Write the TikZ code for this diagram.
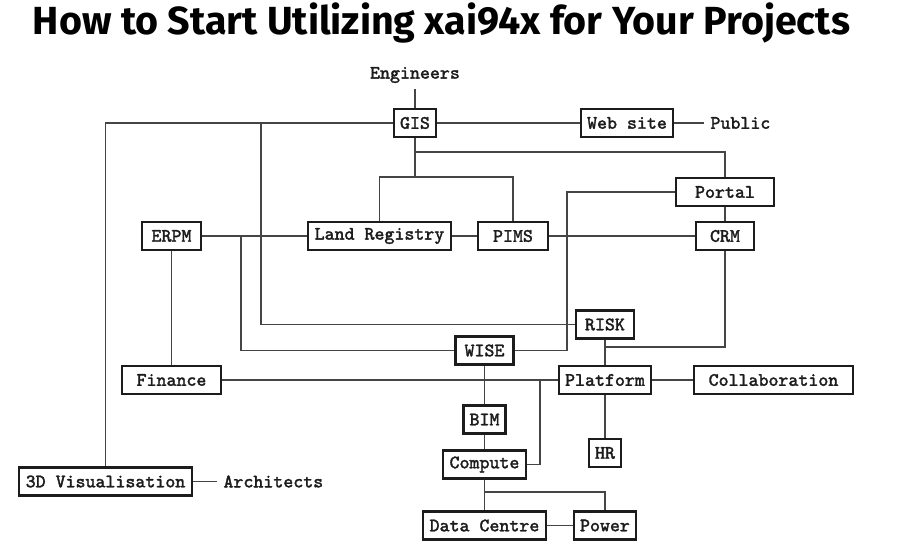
\documentclass[tikz,border=0pt]{standalone}
\usepackage{fontspec}
\usepackage{graphicx}
\usetikzlibrary{positioning}
\newfontfamily\headfont{Fira Sans}
\newfontfamily\boxfont{Latin Modern Mono}[FakeBold=1.6]
\definecolor{ink}{HTML}{1C1C1C}
\definecolor{wire}{HTML}{454545}

\begin{document}
\begin{tikzpicture}[x=0.5pt,y=-0.5pt,
      box/.style={draw=ink,line width=1.1pt,fill=white,text=ink,
                  font=\boxfont\bfseries\fontsize{9.5}{11}\selectfont,
                  minimum height=14pt,inner sep=3pt},
      lbl/.style={text=ink,font=\boxfont\bfseries\fontsize{9.5}{11}\selectfont,inner sep=3pt},
      link/.style={draw=wire,line width=0.65pt}]

    \useasboundingbox (0,0) rectangle (900,550);

    \node[anchor=base,text=black,inner sep=0] (title) at (441.5,35)
      {\resizebox{408.5pt}{\height}{\headfont\bfseries\fontsize{19.6}{22}\selectfont How to Start Utilizing xai94x for Your Projects}};

    % top row
    \node[box,minimum width=21pt] (gis) at (415,123) {GIS};
    \node[box,minimum width=46pt] (web) at (627,123) {Web site};
    \node[lbl] (eng) at (415,75) {Engineers};
    \node[lbl,right=15pt of web] (pub) {Public};
    \node[box,minimum width=49pt] (portal) at (725,192) {Portal};

    % middle row
    \node[box,minimum width=29.5pt] (erpm) at (171.5,236) {ERPM};
    \node[box,minimum width=71.5pt] (land) at (379.5,236) {Land Registry};
    \node[box,minimum width=35pt] (pims) at (513,236) {PIMS};
    \node[box,minimum width=29pt] (crm) at (725,236) {CRM};

    \node[box,minimum width=29pt] (risk) at (605,324.5) {RISK};
    \node[box,minimum width=29pt] (wise) at (484.5,350.5) {WISE};

    \node[box,minimum width=49.5pt] (fin) at (171.5,380) {Finance};
    \node[box,minimum width=46pt] (plat) at (605,380) {Platform};
    \node[box,minimum width=79.5pt] (collab) at (773.5,380) {Collaboration};

    % bottom part
    \node[box,minimum width=20.5pt] (bim) at (484.5,419.5) {BIM};
    \node[box,minimum width=16pt] (hr) at (605,453) {HR};
    \node[box,minimum width=41.5pt] (comp) at (484.5,464.5) {Compute};
    \node[box,minimum width=61.5pt] (dc) at (484.5,525.5) {Data Centre};
    \node[box,minimum width=31pt] (pow) at (605,525.5) {Power};
    \node[box,minimum width=86.5pt] (vis) at (105.5,481.5) {3D Visualisation};
    \node[lbl,right=12pt of vis] (arch) {Architects};

    % junctions
    \coordinate (jgis) at (261,123);
    \coordinate (jerpm) at (241,236);
    \coordinate (jsplit) at (415,177);
    \coordinate (jportal) at (415,152);
    \coordinate (jwise) at (567,350.5);
    \coordinate (jrisk) at (605,347);
    \coordinate (jfin) at (540,380);
    \coordinate (jcomp) at (484.5,492);

    \draw[link] (eng) -- (gis);
    \draw[link] (gis) -- (web);
    \draw[link] (web) -- (pub);
    \draw[link] (gis.west) -| (vis.north);
    \draw[link] (jgis) |- (risk.west);
    \draw[link] (erpm) -- (land);
    \draw[link] (jerpm) |- (wise.west);
    \draw[link] (land) -- (pims);
    \draw[link] (pims) -- (crm);
    \draw[link] (gis.south) -- (jsplit);
    \draw[link] (jsplit) -| (land.north);
    \draw[link] (jsplit) -| (pims.north);
    \draw[link] (jportal) -| (portal.north);
    \draw[link] (portal.west) -| (jwise) -- (wise.east);
    \draw[link] (portal) -- (crm);
    \draw[link] (crm.south) |- (jrisk);
    \draw[link] (risk) -- (plat);
    \draw[link] (plat) -- (collab);
    \draw[link] (plat) -- (hr);
    \draw[link] (erpm) -- (fin);
    \draw[link] (fin) -- (plat);
    \draw[link] (wise) -- (bim);
    \draw[link] (bim) -- (comp);
    \draw[link] (comp.east) -| (jfin);
    \draw[link] (comp) -- (dc);
    \draw[link] (jcomp) -| (pow.north);
    \draw[link] (dc) -- (pow);
    \draw[link] (vis) -- (arch);
  \end{tikzpicture}
\end{document}
